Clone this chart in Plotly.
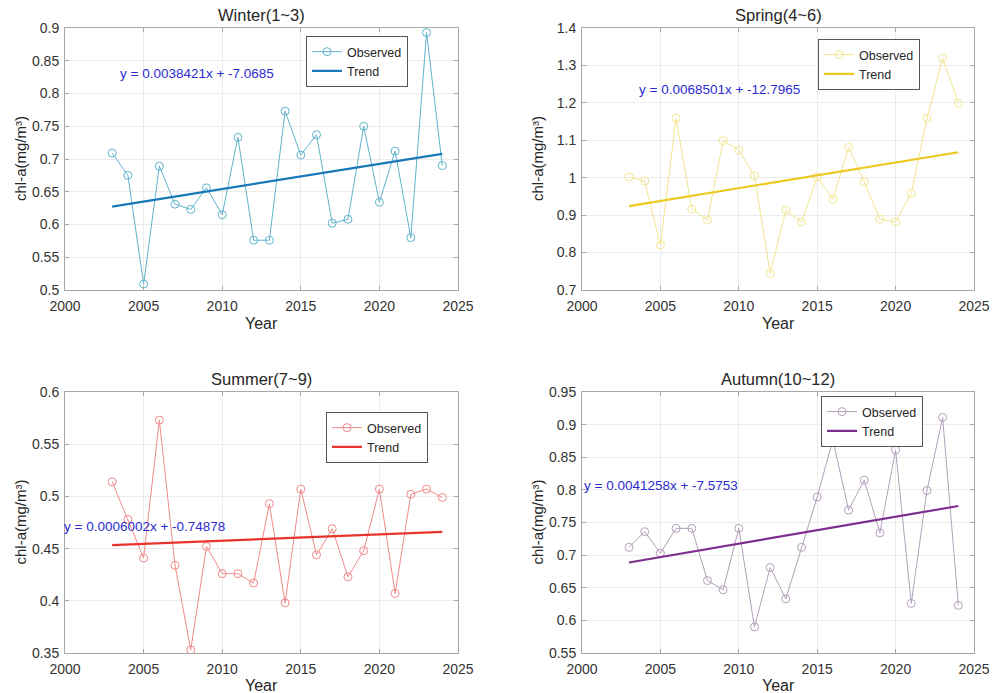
import plotly.graph_objects as go

years = list(range(2003, 2025))

winter = [0.709, 0.675, 0.509, 0.689, 0.631, 0.623, 0.656, 0.615, 0.733, 0.576, 0.576,
          0.773, 0.706, 0.737, 0.602, 0.608, 0.750, 0.634, 0.712, 0.580, 0.893, 0.690]
spring = [1.002, 0.991, 0.820, 1.159, 0.916, 0.887, 1.099, 1.074, 1.005, 0.744, 0.913,
          0.882, 1.002, 0.942, 1.081, 0.989, 0.889, 0.882, 0.958, 1.159, 1.319, 1.199]
summer = [0.514, 0.478, 0.441, 0.573, 0.434, 0.353, 0.452, 0.426, 0.426, 0.417, 0.493,
          0.398, 0.507, 0.444, 0.469, 0.423, 0.448, 0.507, 0.407, 0.502, 0.507, 0.499]
autumn = [0.712, 0.736, 0.703, 0.741, 0.741, 0.661, 0.647, 0.741, 0.590, 0.681, 0.633,
          0.712, 0.789, 0.877, 0.769, 0.815, 0.734, 0.861, 0.626, 0.799, 0.911, 0.623]

titles = ["Winter(1~3)", "Spring(4~6)", "Summer(7~9)", "Autumn(10~12)"]
slopes = [0.0038421, 0.0068501, 0.0006002, 0.0041258]
intercepts = [-7.0685, -12.7965, -0.74878, -7.5753]
eq_labels = ["y = 0.0038421x + -7.0685", "y = 0.0068501x + -12.7965",
             "y = 0.0006002x + -0.74878", "y = 0.0041258x + -7.5753"]
series = [winter, spring, summer, autumn]

obs_colors = ["#5fb4cc", "#f2e690", "#f08a8a", "#b3a0bb"]
trend_colors = ["#1a78b8", "#edc820", "#e8342e", "#7e2f8e"]

yranges = [[0.5, 0.9], [0.7, 1.4], [0.35, 0.6], [0.55, 0.95]]
ydticks = [0.05, 0.1, 0.05, 0.05]

W, H = 994, 693
# pixel boxes: (left, right, top, bottom)
boxes = [(65, 458, 28, 290), (582, 974, 28, 290), (65, 458, 392, 653), (582, 974, 392, 653)]
eq_pos = [(2003.4, 0.83), (2003.5, 1.237), (2000.0, 0.471), (2000.0, 0.806)]
eq_shift = [0, 0, -3, 0]
legend_pos = [(306, 36), (818, 39), (326, 412), (821, 396)]
xlabel_gap = [23, 23, 22, 22]

fig = go.Figure()
font_family = "Liberation Sans, Arial, sans-serif"
txt = "#262626"

for i in range(4):
    ax = "" if i == 0 else str(i + 1)
    L, R, T, B = boxes[i]
    xd = [L / W, R / W]
    yd = [1 - B / H, 1 - T / H]
    leg = "legend" if i == 0 else f"legend{i + 1}"
    trend = [slopes[i] * y + intercepts[i] for y in years]
    fig.add_trace(go.Scatter(
        x=years, y=series[i], mode="lines+markers", name="Observed",
        line=dict(color=obs_colors[i], width=1),
        marker=dict(symbol="circle-open", size=8, color=obs_colors[i], line=dict(width=1)),
        xaxis="x" + ax, yaxis="y" + ax, legend=leg, cliponaxis=False))
    fig.add_trace(go.Scatter(
        x=[years[0], years[-1]], y=[trend[0], trend[-1]], mode="lines", name="Trend",
        line=dict(color=trend_colors[i], width=2.2),
        xaxis="x" + ax, yaxis="y" + ax, legend=leg))
    axis_common = dict(showline=True, linecolor="#a8a8a8", linewidth=1, mirror="allticks",
                       ticks="inside", ticklen=4, tickcolor="#a8a8a8", automargin=False,
                       showgrid=True, gridcolor="#ececec", gridwidth=1, zeroline=False,
                       tickfont=dict(size=14, color="#333333", family=font_family))
    fig.update_layout(**{
        "xaxis" + ax: dict(domain=xd, range=[2000, 2025], tick0=2000, dtick=5,
                           anchor="y" + ax, ticklabelstandoff=3, **axis_common),
        "yaxis" + ax: dict(domain=yd, range=yranges[i], tick0=yranges[i][0], dtick=ydticks[i],
                           anchor="x" + ax, ticklabelstandoff=2, **axis_common),
    })
    lx, ly = legend_pos[i]
    fig.update_layout(**{leg: dict(x=lx / W, y=1 - ly / H, xanchor="left", yanchor="top",
                                   bgcolor="white", bordercolor="#555555", borderwidth=1,
                                   font=dict(size=12.5, color=txt, family=font_family),
                                   tracegroupgap=0, itemwidth=30)})
    # equation text
    ex, ey = eq_pos[i]
    fig.add_annotation(x=ex, y=ey, xref="x" + ax, yref="y" + ax, text=eq_labels[i],
                       showarrow=False, xanchor="left", yanchor="middle", xshift=eq_shift[i],
                       font=dict(size=13.5, color="#2b2bd0", family=font_family))
    # title
    fig.add_annotation(x=(L + R) / 2 / W, y=1 - (T - 2) / H, xref="paper", yref="paper",
                       text=titles[i], showarrow=False, xanchor="center", yanchor="bottom",
                       font=dict(size=16.5, color=txt, family=font_family))
    # x label
    fig.add_annotation(x=(L + R) / 2 / W, y=1 - (B + xlabel_gap[i]) / H, xref="paper", yref="paper",
                       text="Year", showarrow=False, xanchor="center", yanchor="top",
                       font=dict(size=16, color=txt, family=font_family))
    # y label
    fig.add_annotation(x=(L - 45) / W, y=1 - (T + B) / 2 / H, xref="paper", yref="paper",
                       text="chl-a(mg/m³)", showarrow=False, textangle=-90,
                       xanchor="center", yanchor="middle",
                       font=dict(size=15, color=txt, family=font_family))

fig.update_layout(width=W, height=H, margin=dict(l=0, r=0, t=0, b=0, autoexpand=False),
                  paper_bgcolor="white", plot_bgcolor="white", showlegend=True)

fig.write_html("out.html")
